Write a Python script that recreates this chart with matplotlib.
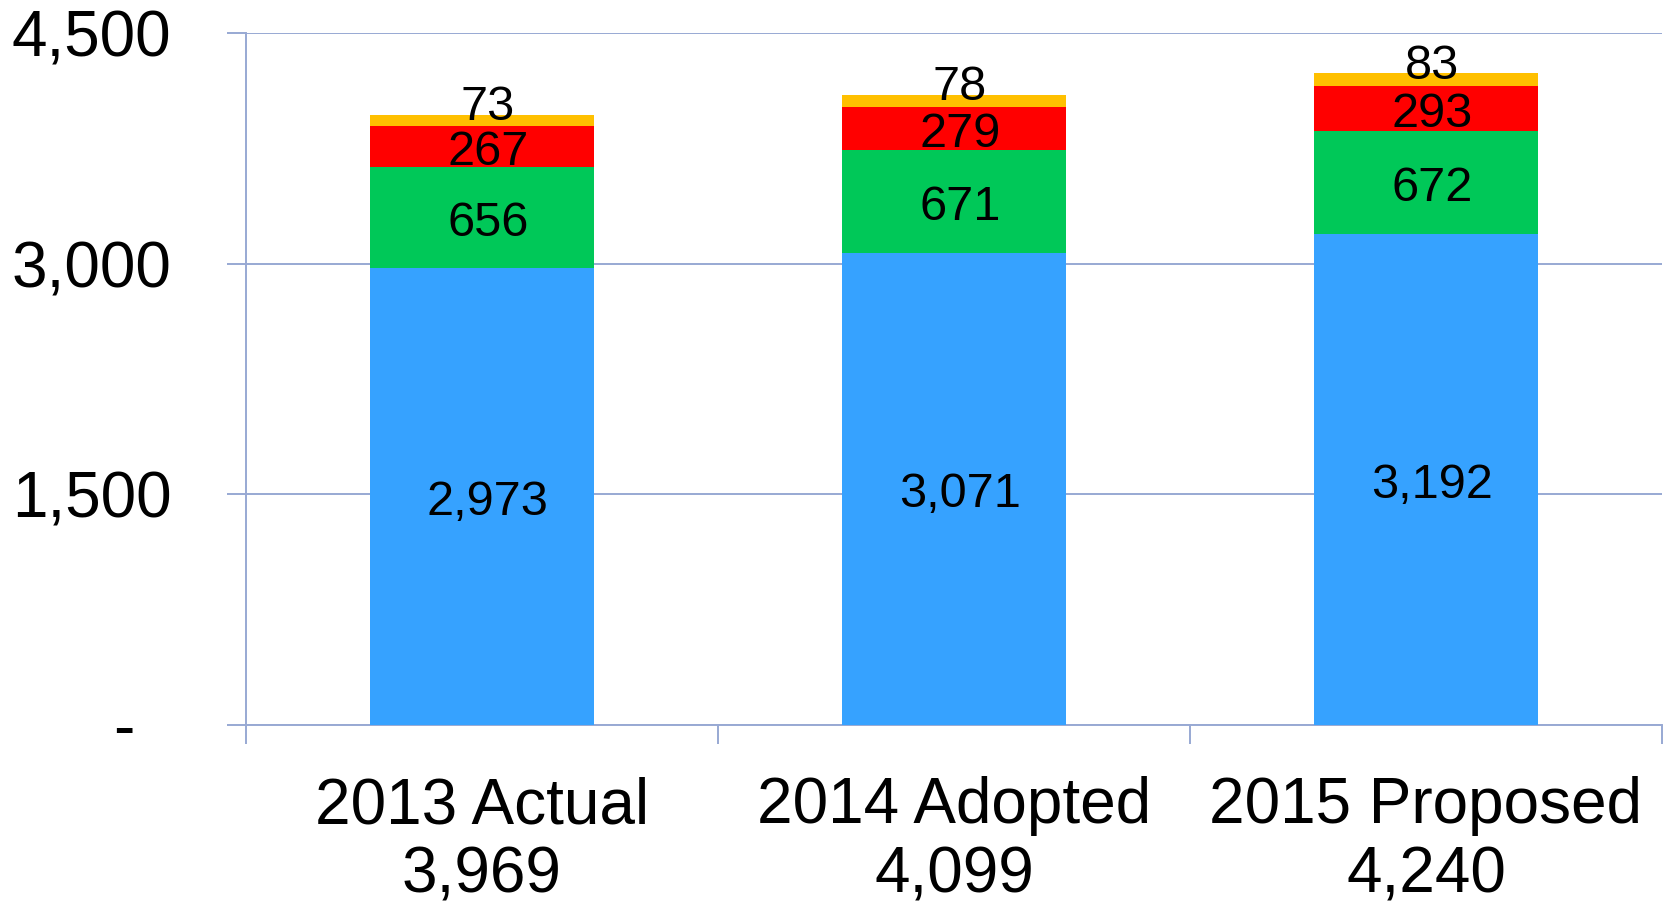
import matplotlib.pyplot as plt
import numpy as np

plt.rcParams['font.family'] = ['Liberation Sans', 'DejaVu Sans']

categories = ['2013 Actual', '2014 Adopted', '2015 Proposed']
totals = ['3,969', '4,099', '4,240']
blue = [2973, 3071, 3192]
green = [656, 671, 672]
red = [267, 279, 293]
yellow = [73, 78, 83]
yticks = [0, 1500, 3000, 4500]
ytick_labels = ['-  ', '1,500', '3,000', '4,500']

grid_c = '#98A9D3'
colors = ['#36A2FF', '#00C858', '#FF0000', '#FFC000']

fig = plt.figure(figsize=(16.65, 9.07), dpi=100)
ax = fig.add_axes([0.1477, 0.2007, 0.9982 - 0.1477, 0.9636 - 0.2007])

x = np.arange(len(categories))
w = 0.475
bottom = np.zeros(len(categories))
for i, (vals, c) in enumerate(zip([blue, green, red, yellow], colors)):
    ax.bar(x, vals, w, bottom=bottom, color=c, zorder=3)
    for xi, b, v in zip(x, bottom, vals):
        off = 19 if i == 3 else 0
        ax.annotate(f'{v:,}', (xi, b + v / 2), xytext=(6, off - 6), textcoords='offset pixels',
                    ha='center', va='center', fontsize=35, zorder=4)
    bottom += np.array(vals)

ax.set_xlim(-0.5, 2.5)
ax.set_ylim(0, 4500)
ax.set_yticks(yticks)
ax.set_yticklabels(ytick_labels, fontsize=46)
ax.yaxis.grid(True, color=grid_c, linewidth=1.4, zorder=0)
ax.tick_params(axis='y', length=19 * 0.72, width=1.4, color=grid_c, pad=40)

# category boundaries as major ticks, labels on minor ticks
ax.set_xticks([-0.5, 0.5, 1.5, 2.5])
ax.set_xticklabels([])
ax.set_xticks(x, minor=True)
ax.set_xticklabels([f'{c}\n{t}' for c, t in zip(categories, totals)], minor=True,
                   fontsize=46, linespacing=1.2)
ax.tick_params(axis='x', which='minor', length=0, pad=37)
ax.tick_params(axis='x', which='major', length=19 * 0.72, width=1.4, color=grid_c)

for s in ['top', 'right']:
    ax.spines[s].set_visible(False)
for s in ['left', 'bottom']:
    ax.spines[s].set_color(grid_c)
    ax.spines[s].set_linewidth(1.4)

fig.savefig('out.png', dpi=100)
